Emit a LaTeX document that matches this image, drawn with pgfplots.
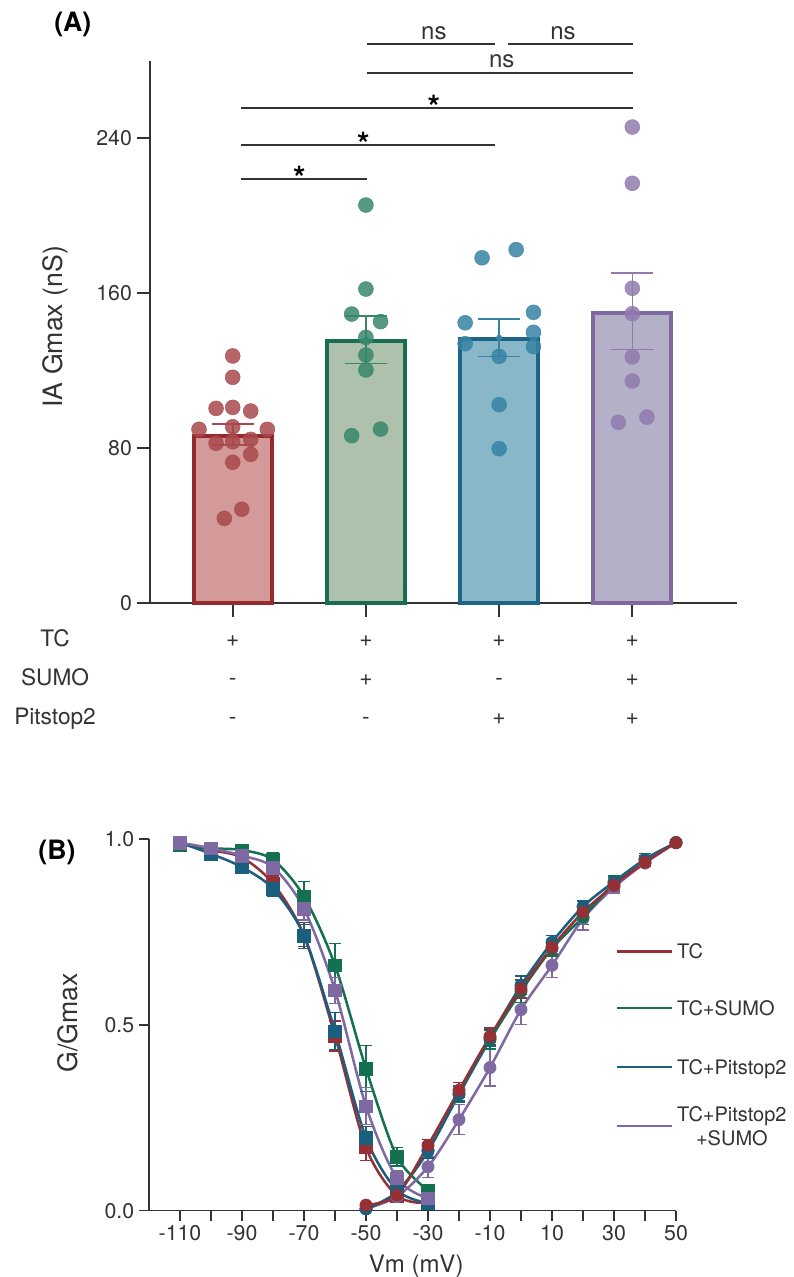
\documentclass[border=0pt]{standalone}
\usepackage{pgfplots}
\pgfplotsset{compat=1.18}
\usepackage{pgfplotstable}
\usepackage{fontspec}
\setmainfont{TeX Gyre Heros}
\definecolor{redB}{HTML}{962B2E}
\definecolor{redF}{HTML}{D49A9A}
\definecolor{redD}{HTML}{A84A4C}
\definecolor{grnB}{HTML}{16704F}
\definecolor{grnF}{HTML}{ADC1AD}
\definecolor{grnD}{HTML}{37876A}
\definecolor{bluB}{HTML}{1C6488}
\definecolor{bluF}{HTML}{89B7CA}
\definecolor{bluD}{HTML}{3683A4}
\definecolor{purB}{HTML}{8068A0}
\definecolor{purF}{HTML}{B3B0C8}
\definecolor{purD}{HTML}{917BAE}
\definecolor{axc}{HTML}{333333}
\definecolor{cTC}{HTML}{953035}
\definecolor{cSU}{HTML}{137050}
\definecolor{cPI}{HTML}{1B5E7E}
\definecolor{cPS}{HTML}{7F69A2}

\pgfplotstableread{
v tc tce su sue pi pie ps pse
-110 0.99 0.010 0.985 0.010 0.99 0.010 0.99 0.010
-100 0.97 0.010 0.975 0.010 0.96 0.012 0.975 0.010
-90 0.95 0.015 0.970 0.012 0.924 0.015 0.955 0.012
-80 0.88 0.020 0.944 0.020 0.866 0.020 0.924 0.020
-70 0.74 0.030 0.845 0.040 0.740 0.035 0.812 0.030
-60 0.47 0.040 0.660 0.058 0.483 0.050 0.593 0.035
-50 0.17 0.035 0.382 0.062 0.196 0.030 0.281 0.050
-40 0.04 0.010 0.145 0.025 0.055 0.015 0.087 0.020
-30 0.02 0.008 0.055 0.012 0.020 0.008 0.033 0.010
}\inact

\pgfplotstableread{
v tc tce su sue pi pie ps pse
-50 0.015 0.005 0.005 0.005 0.005 0.005 0.005 0.005
-40 0.042 0.008 0.050 0.010 0.050 0.010 0.038 0.008
-30 0.176 0.015 0.163 0.020 0.160 0.018 0.118 0.028
-20 0.324 0.020 0.313 0.022 0.315 0.020 0.245 0.040
-10 0.469 0.022 0.460 0.025 0.465 0.022 0.385 0.050
0 0.597 0.025 0.590 0.030 0.606 0.025 0.541 0.040
10 0.709 0.020 0.705 0.020 0.722 0.018 0.660 0.032
20 0.803 0.018 0.790 0.020 0.818 0.015 0.785 0.030
30 0.875 0.012 0.880 0.020 0.885 0.012 0.870 0.015
40 0.937 0.010 0.945 0.015 0.945 0.010 0.935 0.010
50 0.990 0.005 0.990 0.005 0.990 0.005 0.990 0.005
}\act

\tikzset{rowlab/.style={anchor=base, font=\fontsize{17}{17}\selectfont, color=axc}}
\pgfplotsset{
  ebA/.style={only marks, mark=none, #1, error bars/.cd, y dir=both, y explicit,
    error bar style={line width=1.2pt, #1, solid},
    error mark options={rotate=90, line width=1.2pt, #1, mark size=15.75pt}},
  dotA/.style={only marks, mark=*, mark size=5.6pt, color=#1, mark options={fill=#1, draw=#1, opacity=0.85}},
  ebB/.style={error bars/.cd, y dir=both, y explicit,
    error bar style={line width=1pt}, error mark options={rotate=90, line width=1pt, mark size=4.5pt}},
}

\begin{document}
\begin{tikzpicture}
\useasboundingbox (0,0) rectangle (594.75pt,-957.75pt);
\node[font=\bfseries\fontsize{20}{20}\selectfont] at (54.6pt,-18pt) {(A)};
\node[font=\bfseries\fontsize{20}{20}\selectfont] at (42.75pt,-639pt) {(B)};

% ---------------- Panel A ----------------
\begin{axis}[
  at={(112.5pt,-452.5pt)}, anchor=south west,
  scale only axis, width=440.25pt, height=406.7pt,
  xmin=-0.621, xmax=3.786, ymin=0, ymax=279.5,
  axis lines=left, axis line style={-, line width=1.5pt, color=axc},
  xtick={0,1,2,3}, xticklabels={},
  ytick={0,80,160,240},
  tick align=outside, major tick length=10pt,
  every tick/.style={line width=1.5pt, color=axc},
  yticklabel style={font=\fontsize{16}{16}\selectfont, color=axc},
  /pgf/number format/assume math mode=true,
  ylabel={IA Gmax (nS)},
  ylabel style={font=\fontsize{20}{20}\selectfont, at={(axis description cs:-0.162,0.51)}, anchor=center, color=axc},
  clip=false,
]
% bars
\addplot[ybar, bar width=58.5pt, bar shift=0pt, fill=redF, draw=redB, line width=3pt] coordinates {(0,86.5)};
\addplot[ybar, bar width=58.5pt, bar shift=0pt, fill=grnF, draw=grnB, line width=3pt] coordinates {(1,135)};
\addplot[ybar, bar width=58.5pt, bar shift=0pt, fill=bluF, draw=bluB, line width=3pt] coordinates {(2,136.2)};
\addplot[ybar, bar width=58.5pt, bar shift=0pt, fill=purF, draw=purB, line width=3pt] coordinates {(3,149.5)};
% error bars
\addplot[ebA=redD] coordinates {(0,87) +- (0,5.4)};
\addplot[ebA=grnD] coordinates {(1,135.9) +- (0,12.2)};
\addplot[ebA=bluD] coordinates {(2,136.9) +- (0,9.6)};
\addplot[ebA=purD] coordinates {(3,150.6) +- (0,19.7)};
% dots
\addplot[dotA=redD] coordinates {
(0,127.5) (0,116.5) (-0.125,100.5) (0,101.0) (0.135,99.1) (-0.253,89.7) (0,91.0) (0.26,89.7)
(-0.125,82.5) (0,83.3) (0.135,84.5) (0.135,76.8) (0,72.7) (0.068,48.5) (-0.063,43.8)};
\addplot[dotA=grnD] coordinates {
(1,205.3) (1,162.0) (0.893,149.1) (1.11,145.2) (1,137.1) (1,128.0) (1,120.3) (1.11,89.8) (0.893,86.4)};
\addplot[dotA=bluD] coordinates {
(1.872,178.1) (2.128,182.3) (1.745,144.6) (2.258,150.0) (2.258,139.7) (1.745,133.8) (2.258,132.3) (2,127.3) (2,102.4) (2,79.7)};
\addplot[dotA=purD] coordinates {
(3,245.5) (3,216.5) (3,162.4) (3,149.3) (3,127.0) (3,114.6) (2.895,93.3) (3.11,96.0)};
% significance
\draw[line width=1.2pt, axc] (axis cs:0.065,218.6) -- (axis cs:1.006,218.6);
\draw[line width=1.2pt, axc] (axis cs:0.065,236.2) -- (axis cs:1.967,236.2);
\draw[line width=1.2pt, axc] (axis cs:0.065,255.2) -- (axis cs:3.008,255.2);
\draw[line width=1.2pt, axc] (axis cs:1.006,273.5) -- (axis cs:3.008,273.5);
\draw[line width=1.2pt, axc] (axis cs:1.006,288.3) -- (axis cs:1.967,288.3);
\draw[line width=1.2pt, axc] (axis cs:2.069,288.3) -- (axis cs:3.008,288.3);
\node[anchor=base, yshift=-8pt, font=\bfseries\fontsize{24}{24}\selectfont] at (axis cs:0.5,218.6) {*};
\node[anchor=base, yshift=-8pt, font=\bfseries\fontsize{24}{24}\selectfont] at (axis cs:0.98,236.2) {*};
\node[anchor=base, yshift=-8pt, font=\bfseries\fontsize{24}{24}\selectfont] at (axis cs:1.51,255.2) {*};
\node[anchor=base, yshift=3.6pt, font=\fontsize{18}{18}\selectfont, color=axc] at (axis cs:2.02,273.5) {ns};
\node[anchor=base, yshift=3.6pt, font=\fontsize{18}{18}\selectfont, color=axc] at (axis cs:1.51,288.3) {ns};
\node[anchor=base, yshift=3.6pt, font=\fontsize{18}{18}\selectfont, color=axc] at (axis cs:2.48,288.3) {ns};
% condition rows
\node[rowlab] at (axis cs:-1.334,-22.0) {TC};
\node[rowlab] at (axis cs:-1.334,-42.1) {SUMO};
\node[rowlab] at (axis cs:-1.334,-62.2) {Pitstop2};
\node[rowlab] at (axis cs:0,-22.0) {+};
\node[rowlab] at (axis cs:1,-22.0) {+};
\node[rowlab] at (axis cs:2,-22.0) {+};
\node[rowlab] at (axis cs:3,-22.0) {+};
\node[rowlab] at (axis cs:0,-42.1) {-};
\node[rowlab] at (axis cs:1,-42.1) {+};
\node[rowlab] at (axis cs:2,-42.1) {-};
\node[rowlab] at (axis cs:3,-42.1) {+};
\node[rowlab] at (axis cs:0,-62.2) {-};
\node[rowlab] at (axis cs:1,-62.2) {-};
\node[rowlab] at (axis cs:2,-62.2) {+};
\node[rowlab] at (axis cs:3,-62.2) {+};
\end{axis}

% ---------------- Panel B ----------------
\begin{axis}[
  at={(111.75pt,-908pt)}, anchor=south west,
  scale only axis, width=395.25pt, height=278.8pt,
  xmin=-120, xmax=50, ymin=0, ymax=1,
  axis lines=left, axis line style={-, line width=1.1pt, color=axc},
  xtick={-110,-100,...,50},
  xticklabels={-110,,-90,,-70,,-50,,-30,,-10,,10,,30,,50},
  ytick={0,0.5,1}, yticklabels={0.0,0.5,1.0},
  tick align=outside, major tick length=7.5pt,
  every tick/.style={line width=1.1pt, color=axc},
  ticklabel style={font=\fontsize{16}{16}\selectfont, color=axc},
  xlabel={Vm (mV)},
  xlabel style={font=\fontsize{18}{18}\selectfont, at={(axis description cs:0.507,-0.149)}, anchor=center, color=axc},
  ylabel={G/Gmax},
  ylabel style={font=\fontsize{20}{20}\selectfont, at={(axis description cs:-0.154,0.505)}, anchor=center, color=axc},
  clip=false,
]
% fitted curves
\addplot[smooth, cTC, line width=1.9pt] table[x=v,y=tc] {\inact};
\addplot[smooth, cSU, line width=1.9pt] table[x=v,y=su] {\inact};
\addplot[smooth, cPI, line width=1.9pt] table[x=v,y=pi] {\inact};
\addplot[smooth, cPS, line width=1.9pt] table[x=v,y=ps] {\inact};
\addplot[smooth, cPS, line width=1.9pt] table[x=v,y=ps] {\act};
\addplot[smooth, cSU, line width=1.9pt] table[x=v,y=su] {\act};
\addplot[smooth, cPI, line width=1.9pt] table[x=v,y=pi] {\act};
\addplot[smooth, cTC, line width=1.9pt] table[x=v,y=tc] {\act};
% inactivation points
\addplot[only marks, mark=square*, mark size=4.7pt, cTC, ebB] table[x=v,y=tc,y error=tce] {\inact};
\addplot[only marks, mark=square*, mark size=4.7pt, cSU, ebB] table[x=v,y=su,y error=sue] {\inact};
\addplot[only marks, mark=square*, mark size=4.7pt, cPI, ebB] table[x=v,y=pi,y error=pie] {\inact};
\addplot[only marks, mark=square*, mark size=4.7pt, cPS, ebB] table[x=v,y=ps,y error=pse] {\inact};
% activation points
\addplot[only marks, mark=*, mark size=4.6pt, cPS, ebB] table[x=v,y=ps,y error=pse] {\act};
\addplot[only marks, mark=*, mark size=4.6pt, cSU, ebB] table[x=v,y=su,y error=sue] {\act};
\addplot[only marks, mark=*, mark size=4.6pt, cPI, ebB] table[x=v,y=pi,y error=pie] {\act};
\addplot[only marks, mark=*, mark size=4.6pt, cTC, ebB] table[x=v,y=tc,y error=tce] {\act};
% legend
\draw[cTC, line width=1.9pt] (axis cs:31,0.697) -- (axis cs:48.7,0.697);
\draw[cSU, line width=1.9pt] (axis cs:31,0.545) -- (axis cs:48.7,0.545);
\draw[cPI, line width=1.9pt] (axis cs:31,0.386) -- (axis cs:48.7,0.386);
\draw[cPS, line width=1.9pt] (axis cs:31,0.228) -- (axis cs:48.7,0.228);
\node[anchor=base west, inner sep=0pt, yshift=-5.4pt, font=\fontsize{15}{15}\selectfont, color=axc] at (axis cs:50.3,0.697) {TC};
\node[anchor=base west, inner sep=0pt, yshift=-5.4pt, font=\fontsize{15}{15}\selectfont, color=axc] at (axis cs:50.3,0.545) {TC+SUMO};
\node[anchor=base west, inner sep=0pt, yshift=-5.4pt, font=\fontsize{15}{15}\selectfont, color=axc] at (axis cs:50.3,0.386) {TC+Pitstop2};
\node[anchor=west, inner sep=0pt, align=center, font=\fontsize{15}{17.8}\selectfont, color=axc] at (axis cs:50.3,0.228) {TC+Pitstop2\\+SUMO};
\end{axis}
\end{tikzpicture}
\end{document}
